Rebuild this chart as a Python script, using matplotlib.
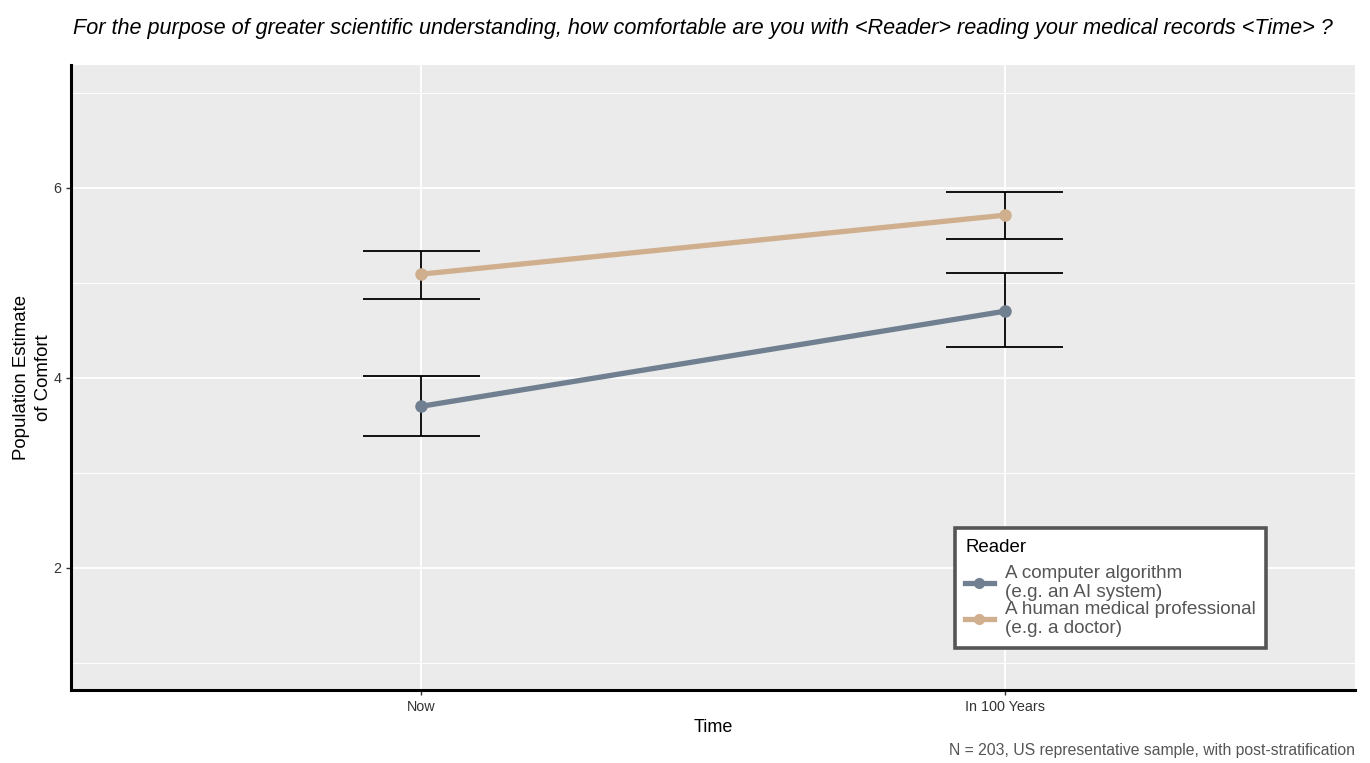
import matplotlib
matplotlib.use("Agg")
import matplotlib.pyplot as plt

# ── data ──────────────────────────────────────────────
times = ["Now", "In 100 Years"]
readers = ["A computer algorithm\n(e.g. an AI system)",
           "A human medical professional\n(e.g. a doctor)"]
ai_mean = [3.70, 4.70]
ai_low = [3.39, 4.32]
ai_high = [4.02, 5.10]
human_mean = [5.09, 5.71]
human_low = [4.83, 5.46]
human_high = [5.33, 5.95]
colors = ["#708090", "#D0AF8F"]

plt.rcParams["font.family"] = ["Liberation Sans", "DejaVu Sans"]

fig = plt.figure(figsize=(13.7, 7.63), dpi=100)
ax = fig.add_axes([0.0518, 0.0957, 0.9372, 0.8191])
ax.set_facecolor("#EBEBEB")

x = [1, 2]
series = [(ai_mean, ai_low, ai_high), (human_mean, human_low, human_high)]
for (m, lo, hi), col, lab in zip(series, colors, readers):
    ax.vlines(x, lo, hi, color="black", lw=1.3, zorder=3)
    for xi, l, h in zip(x, lo, hi):
        ax.hlines([l, h], xi - 0.1, xi + 0.1, color="black", lw=1.3, zorder=3)
    ax.plot(x, m, color=col, lw=3.8, marker="o", ms=8, zorder=4, label=lab)

ax.set_xlim(0.4, 2.6)
ax.set_ylim(0.716, 7.29)
ax.set_xticks(x)
ax.set_xticklabels(times)
ax.set_yticks([2, 4, 6])
ax.set_yticks([1, 3, 5, 7], minor=True)
ax.grid(True, which="major", color="white", lw=1.3)
ax.grid(True, which="minor", axis="y", color="white", lw=0.7)
ax.set_axisbelow(True)
ax.tick_params(axis="both", which="major", colors="#333333", labelsize=10.4,
               length=3.5, width=1, labelcolor="#333333")
ax.tick_params(axis="y", which="minor", length=0)
for s in ["top", "right"]:
    ax.spines[s].set_visible(False)
for s in ["left", "bottom"]:
    ax.spines[s].set_linewidth(2.2)
    ax.spines[s].set_color("black")

ax.set_xlabel("Time", fontsize=13, labelpad=4)
ax.set_ylabel("Population Estimate\nof Comfort", fontsize=13.4, labelpad=1,
              linespacing=1.35)

fig.text(0.053, 0.963,
         "For the purpose of greater scientific understanding, how comfortable are you "
         "with <Reader> reading your medical records <Time> ?",
         fontsize=15.6, style="italic", ha="left", va="center")
fig.text(0.989, 0.006, "N = 203, US representative sample, with post-stratification",
         fontsize=11.3, color="#555555", ha="right", va="bottom")

leg = ax.legend(title="Reader", loc="lower left",
                bbox_to_anchor=(0.697, 0.151), bbox_transform=fig.transFigure,
                borderaxespad=0, fontsize=13.6, title_fontsize=13.4,
                frameon=True, fancybox=False, framealpha=1, labelspacing=0.0,
                handlelength=1.5, handletextpad=0.6, borderpad=0.55,
                alignment="left")
leg.get_frame().set_edgecolor("#555555")
leg.get_frame().set_linewidth(2.6)
for t in leg.get_texts():
    t.set_color("#555555")
    t.set_linespacing(1.15)
for h in leg.legend_handles:
    h.set_markersize(7)
# gap between the legend title and the entries
leg._legend_box.sep = 7

fig.savefig("out.png", dpi=100)
